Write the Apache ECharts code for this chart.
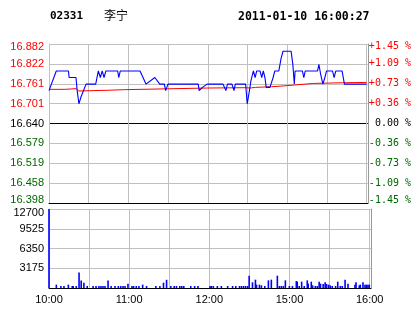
<!DOCTYPE html>
<html><head><meta charset="utf-8">
<script src="https://cdn.jsdelivr.net/npm/echarts@6/dist/echarts.min.js"></script>
<style>html,body{margin:0;padding:0;background:#fff;}#c{width:414px;height:314px;}</style>
</head><body><div id="c"></div>
<script>
const stockCode = '02331';
const stockName = '李宁';
const timestamp = '2011-01-10 16:00:27';
const prevClose = 16.640;
const priceTicks = [16.398, 16.4585, 16.519, 16.5795, 16.640, 16.7005, 16.761, 16.8215, 16.882];
const priceLabels = ['16.398','16.458','16.519','16.579','16.640','16.701','16.761','16.822','16.882'];
const pctLabels = ['-1.45 %','-1.09 %','-0.73 %','-0.36 %',' 0.00 %','+0.36 %','+0.73 %','+1.09 %','+1.45 %'];
const timeLabels = ['10:00','','11:00','','12:00','','15:00','','16:00'];
const volMax = 12700;

// minutes since 10:00 (lunch break removed) and last price
const priceMinutes = [0,5.5,14.7,15.2,20.4,21.3,22.6,24.1,28,35.3,37.3,38.8,40.2,41.6,43,51.9,52.7,53.9,68.8,73.3,80,83.7,87.2,88.2,89.9,112.8,113.5,116,119.5,131.5,133.7,134.9,138.3,139.8,140.8,148.6,149.8,151.5,152.6,154.5,155.8,157,159.5,160.8,162,163.2,164.2,167,169.4,170.7,173.7,175.5,176.9,183,184.3,185.4,186,191.5,192.6,193.7,203,204,205.3,207,208.5,209.8,214.3,215.5,216.8,221.5,223.3,240];
const prices = [16.74,16.80,16.80,16.78,16.78,16.74,16.70,16.72,16.76,16.76,16.80,16.78,16.80,16.78,16.80,16.80,16.78,16.80,16.80,16.76,16.78,16.76,16.76,16.74,16.76,16.76,16.74,16.75,16.76,16.76,16.74,16.76,16.76,16.74,16.76,16.76,16.70,16.74,16.77,16.80,16.78,16.80,16.80,16.78,16.80,16.78,16.75,16.75,16.78,16.80,16.80,16.84,16.86,16.86,16.82,16.76,16.80,16.80,16.78,16.80,16.80,16.82,16.79,16.76,16.78,16.80,16.80,16.78,16.80,16.80,16.76,16.76];

// average price line
const avgMinutes = [0,12,13,20.5,22.5,24,43,44,57,58,120,148.5,150,152,156,168,176,200,222,240];
const avgPrices = [16.744,16.744,16.746,16.746,16.739,16.741,16.741,16.743,16.743,16.745,16.748,16.749,16.746,16.748,16.750,16.752,16.754,16.762,16.764,16.765];

// volume bars
const volMinutes = [0,5.5,8.9,11.2,14.5,17.4,18.1,20.4,22.5,24.1,26.1,28.6,33,35.2,37.4,38.9,40.4,41.9,44.2,46.5,49.4,51.9,53.7,55.4,56.9,59.1,62.1,63.3,65.3,67.3,70.1,73,80,83,85.7,88,91.2,93.7,95.4,97.9,99.4,100.9,106.1,109,111.5,120.5,121.5,123,126,129,133.7,137.4,139.8,142.6,144.1,145.6,147.1,148.6,149.8,152.3,154.5,155.3,157.5,159,161.5,164.2,166.4,170.9,172.4,173.9,175.4,176.9,179.9,182.2,185.1,185.8,187.3,189.1,191,193.3,194,196.3,197.3,199.3,200.8,202.2,203.2,205.2,206.7,207.7,209.2,210.5,212,214.5,216.1,218,219.5,221.6,223.8,229,229.8,232.2,233,235,236.5,237.5,238.7,239.7];
const volumes = [12700,540,320,320,540,320,320,320,2500,1200,850,320,320,320,320,320,320,320,1200,320,320,320,320,320,320,680,320,320,320,320,540,320,320,320,860,1320,320,320,320,320,320,320,320,320,320,320,320,320,320,320,320,320,320,320,320,320,320,320,1980,910,1340,540,540,430,320,1230,1340,1980,320,320,320,1230,320,320,1120,1020,320,1020,320,1230,700,1020,430,320,320,1020,700,640,910,640,540,430,320,320,1020,320,320,1340,700,540,910,430,540,910,540,540,540,540];

const GRID = '#c0c0c0';
const RED = '#ff0000', GREEN = '#006600';
function nearestIdx(v){let b=0,d=1e9;priceTicks.forEach((t,i)=>{const e=Math.abs(t-v);if(e<d){d=e;b=i;}});return b;}
function tickColor(v){const i=nearestIdx(v);return i>4?RED:(i<4?GREEN:'#000');}
function wrapEdge(i, s){ if(i===8) return '{t|'+s+'}'; if(i===0) return '{b|'+s+'}'; return s; }

const chart = echarts.init(document.getElementById('c'), null, {renderer:'canvas'});
chart.setOption({
  animation: false,
  backgroundColor: '#fff',
  title: [
    {text: stockCode, left: 50, top: 11, padding: 0, textStyle:{fontFamily:'DejaVu Sans Mono', fontWeight:'bold', fontSize:11, color:'#000'}},
    {text: stockName, left: 104, top: 9, padding: 0, textStyle:{fontFamily:'Noto Sans CJK SC', fontWeight:'normal', fontSize:12, color:'#000'}},
    {text: timestamp, left: 238, top: 11, padding: 0, textStyle:{fontFamily:'DejaVu Sans Mono', fontWeight:'bold', fontSize:11.5, color:'#000'}}
  ],
  grid: [
    {left:49, top:44, width:322, height:159},
    {left:49, top:209, width:322, height:79}
  ],
  xAxis: [
    {gridIndex:0, type:'value', min:0, max:241, interval:30,
     axisLine:{show:true, lineStyle:{color:'#000', width:1}}, axisTick:{show:false}, axisLabel:{show:false},
     splitLine:{show:true, lineStyle:{color:GRID, width:1}}},
    {gridIndex:1, type:'value', min:0, max:241, interval:30,
     axisLine:{show:true, lineStyle:{color:'#000', width:1}}, axisTick:{show:false},
     axisLabel:{show:true, margin:6, fontFamily:'Liberation Sans', fontSize:11, color:'#000',
       formatter:v=>{const k=v/30; return Number.isInteger(k)&&timeLabels[k]!==undefined?timeLabels[k]:'';}},
     splitLine:{show:true, lineStyle:{color:GRID, width:1}}}
  ],
  yAxis: [
    {gridIndex:0, type:'value', position:'left', min:priceTicks[0], max:priceTicks[8],
     axisLine:{show:true, lineStyle:{color:GRID}}, axisTick:{show:false, customValues:priceTicks},
     axisLabel:{customValues:priceTicks, margin:5, fontFamily:'Liberation Sans', fontSize:11,
       color:(v)=>tickColor(v),
       formatter:(v)=>{const i=nearestIdx(v); return wrapEdge(i, priceLabels[i]);},
       rich:{t:{padding:[5,0,0,0]}, b:{padding:[0,0,6,0]}}},
     splitLine:{show:true, lineStyle:{color:['#000',GRID,GRID,GRID,'#000',GRID,GRID,GRID,GRID], width:1}}},
    {gridIndex:0, type:'value', position:'right', min:priceTicks[0], max:priceTicks[8],
     axisLine:{show:true, lineStyle:{color:'#999'}}, axisTick:{show:false, customValues:priceTicks},
     axisLabel:{customValues:priceTicks, margin:1, fontFamily:'DejaVu Sans Mono', fontSize:10,
       color:(v)=>tickColor(v),
       formatter:(v)=>{const i=nearestIdx(v); return wrapEdge(i, pctLabels[i]);},
       rich:{t:{padding:[5,0,0,0]}, b:{padding:[0,0,6,0]}}},
     splitLine:{show:false}},
    {gridIndex:1, type:'value', position:'left', min:0, max:volMax, interval:3175,
     axisLine:{show:true, lineStyle:{color:GRID}}, axisTick:{show:false},
     axisLabel:{margin:5, fontFamily:'Liberation Sans', fontSize:11, color:'#000',
       formatter:(v)=> v===0 ? '' : (v===volMax ? '{t|'+v+'}' : String(v)),
       rich:{t:{padding:[8,0,0,0]}}},
     splitLine:{show:true, lineStyle:{color:GRID, width:1}}},
    {gridIndex:1, type:'value', position:'right', min:0, max:volMax,
     axisLine:{show:true, lineStyle:{color:'#999'}}, axisTick:{show:false}, axisLabel:{show:false}, splitLine:{show:false}}
  ],
  series: [
    {type:'line', xAxisIndex:0, yAxisIndex:0, symbol:'none', z:3,
     lineStyle:{color:'#ff0000', width:1},
     data: avgMinutes.map((m,i)=>[m, avgPrices[i]])},
    {type:'line', xAxisIndex:0, yAxisIndex:0, symbol:'none', z:4,
     lineStyle:{color:'#0000ff', width:1.1},
     data: priceMinutes.map((m,i)=>[m, prices[i]])},
    {type:'bar', xAxisIndex:1, yAxisIndex:2, barWidth:1.6, itemStyle:{color:'#0000ff'},
     data: volMinutes.map((m,i)=>[m, volumes[i]])}
  ]
});
</script>
</body></html>
